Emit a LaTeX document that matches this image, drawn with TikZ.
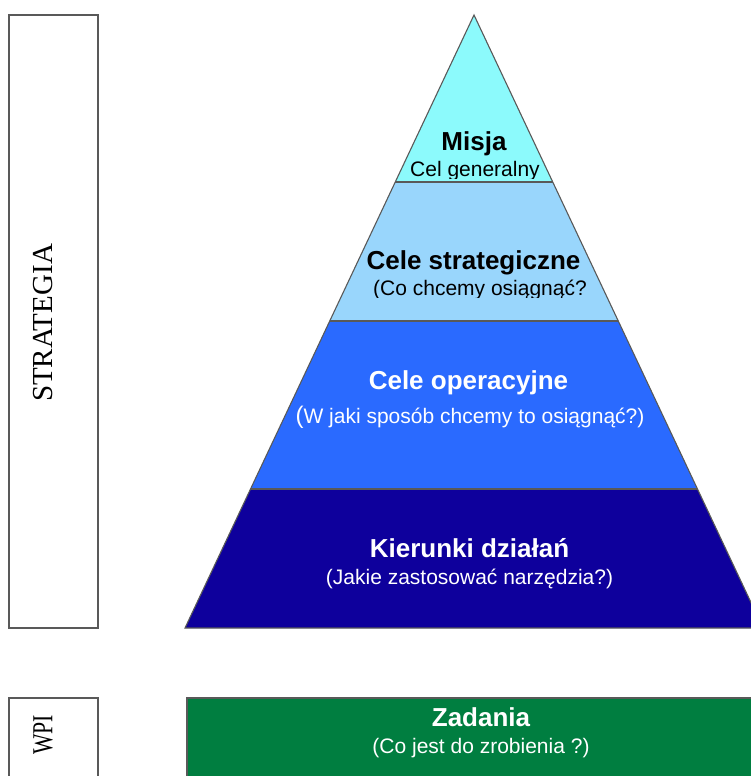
\documentclass[tikz,border=0pt]{standalone}
\usepackage{fontspec}
\setmainfont{Liberation Serif}
\setsansfont{Liberation Sans}
\definecolor{misja}{RGB}{140,250,252}
\definecolor{strat}{RGB}{153,214,252}
\definecolor{oper}{RGB}{42,106,255}
\definecolor{kier}{RGB}{14,0,156}
\definecolor{zad}{RGB}{0,126,64}
\tikzset{
    edge/.style = {draw = black!65, line width = 1.1pt},
    head/.style = {font = \sffamily\bfseries\fontsize{26}{30}\selectfont, anchor = base, inner sep = 0pt},
    sub/.style = {font = \sffamily\fontsize{21}{25}\selectfont, anchor = base, inner sep = 0pt},
    side/.style = {font = \fontsize{29}{32}\selectfont, rotate = 90, inner sep = 0pt},
}
\begin{document}
\begin{tikzpicture}[x = 1pt, y = -1pt]
            \useasboundingbox (0, 0) rectangle (750, 776);
            % side boxes
            \draw[edge]
                (9, 15) rectangle (98, 628)
                (9, 698) rectangle (98, 800)
            ;
            \node[side] (strategia) at (43, 323) {STRATEGIA};
            \node[side] (wpi) at (43, 735) {\scalebox{0.75}[1]{WPI}};
            % pyramid
            \coordinate (apex) at (474, 15);
            \coordinate (baseleft) at (185, 628);
            \coordinate (baseright) at (763, 628);
            \begin{scope}
                \clip (apex) -- (baseleft) -- (baseright) -- cycle;
                \foreach \ya/\yb/\col in {0/182/misja, 182/321/strat, 321/489/oper, 489/640/kier}
                    \fill[\col] (150, \ya) rectangle (800, \yb);
                \foreach \y in {182, 321, 489}
                    \draw[edge] (150, \y) -- (800, \y);
            \end{scope}
            \draw[edge] (apex) -- (baseleft) -- (baseright) -- cycle;
            % tasks
            \draw[edge, fill = zad] (187, 698) rectangle (800, 800);
            % texts
            \node[head] (misja) at (474, 150) {Misja};
            \begin{scope}
                \clip (300, 155) rectangle (650, 178.5);
                \node[sub] (celgen) at (475, 176) {Cel generalny};
            \end{scope}
            \node[head] (strategiczne) at (473.5, 269) {Cele strategiczne};
            \begin{scope}
                \clip (300, 275) rectangle (650, 297.5);
                \node[sub] (cochcemy) at (480, 295) {(Co chcemy osiągnąć?};
            \end{scope}
            \node[head, text = white] (operacyjne) at (468.5, 389) {Cele operacyjne};
            \node[sub, text = white] (wjaki) at (470, 423)
                {{\fontsize{24}{28}\selectfont(}W jaki sposób chcemy to osiągnąć?)};
            \node[head, text = white] (kierunki) at (469.5, 557) {Kierunki działań};
            \node[sub, text = white] (jakie) at (469.5, 584) {(Jakie zastosować narzędzia?)};
            \node[head, text = white] (zadania) at (481, 726) {Zadania};
            \node[sub, text = white] (cojest) at (481, 753) {(Co jest do zrobienia ?)};
        \end{tikzpicture}
\end{document}
